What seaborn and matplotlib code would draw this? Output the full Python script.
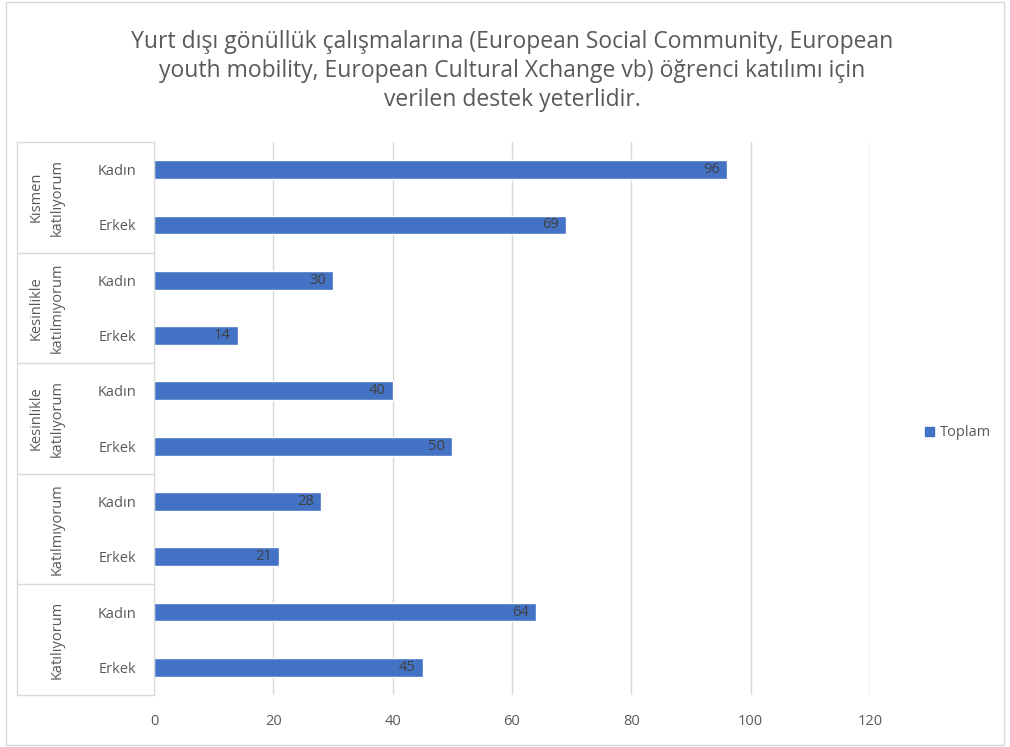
import numpy as np
import pandas as pd
import matplotlib
matplotlib.use("Agg")
import matplotlib.pyplot as plt
import matplotlib.transforms as mtransforms
from matplotlib.patches import Rectangle
from matplotlib.lines import Line2D
import seaborn as sns

# --- data (top to bottom) ---
groups = ["Kısmen\nkatılıyorum", "Kesinlikle\nkatılmıyorum", "Kesinlikle\nkatılıyorum",
          "Katılmıyorum", "Katılıyorum"]
genders = ["Kadın", "Erkek"]
values = [96, 69, 30, 14, 40, 50, 28, 21, 64, 45]
x_ticks = [0, 20, 40, 60, 80, 100, 120]
title = ("Yurt dışı gönüllük çalışmalarına (European Social Community, European\n"
         "youth mobility, European Cultural Xchange vb) öğrenci katılımı için\n"
         "verilen destek yeterlidir.")
series_name = "Toplam"

BAR = "#4472C4"
TXT = "#595959"
GRID = "#D9D9D9"

rows = []
for g in groups:
    for s in genders:
        rows.append({"row": f"{g}|{s}", "group": g, "gender": s})
df = pd.DataFrame(rows)
df["value"] = values

sns.set_style("white")
plt.rcParams["font.family"] = ["Open Sans", "DejaVu Sans"]

fig = plt.figure(figsize=(10.1, 7.47), dpi=100)
W, H = 1010, 747
ax_left, ax_right, ax_top, ax_bot = 154, 870, 142, 695
ax = fig.add_axes([ax_left / W, 1 - ax_bot / H, (ax_right - ax_left) / W, (ax_bot - ax_top) / H])

sns.barplot(data=df, x="value", y="row", orient="h", color=BAR, width=0.34,
            saturation=1, ax=ax)

ax.set_xlim(0, 120)
ax.set_ylim(len(values) - 0.5, -0.5)
ax.set_xticks(x_ticks)
ax.set_xticklabels([str(t) for t in x_ticks], color=TXT, fontsize=10.5)
ax.set_yticks(range(len(values)))
ax.set_yticklabels(df["gender"], color=TXT, fontsize=10.5)
ax.tick_params(axis="both", length=0)
ax.tick_params(axis="y", pad=13)
ax.tick_params(axis="x", pad=14)
ax.set_xlabel("")
ax.set_ylabel("")
ax.xaxis.grid(True, color=GRID, linewidth=1)
ax.set_axisbelow(True)
for side in ["top", "right", "bottom"]:
    ax.spines[side].set_visible(False)
ax.spines["left"].set_color(GRID)
# keep the 120 gridline visible at the right edge
ax.axvline(120, color=GRID, linewidth=1, zorder=0)

# data labels inside end of bars
for i, v in enumerate(values):
    ax.text(v - 1.2, i, str(v), ha="right", va="center", color="#404040", fontsize=10.5)

# multi-level category table on the left
trans = mtransforms.blended_transform_factory(ax.transAxes, ax.transData)
x_tab = (17 - ax_left) / (ax_right - ax_left)
ax.add_line(Line2D([x_tab, x_tab], [-0.5, len(values) - 0.5], transform=trans,
                   color=GRID, linewidth=1, clip_on=False))
for k in range(len(groups) + 1):
    yb = 2 * k - 0.5
    ax.add_line(Line2D([x_tab, 0], [yb, yb], transform=trans,
                       color=GRID, linewidth=1, clip_on=False))
x_grp = (65 - ax_left) / (ax_right - ax_left)
for k, g in enumerate(groups):
    ax.text(x_grp, 2 * k + 0.5, g, transform=trans, rotation=90, ha="right",
            va="center", multialignment="center", color=TXT, fontsize=10.5,
            linespacing=1.6)

# title
fig.text(512 / W, 1 - 71 / H, title, ha="center", va="center", color=TXT,
         fontsize=16.5, linespacing=1.3)

# legend
handles = [Rectangle((0, 0), 1, 1, color=BAR)]
fig.legend(handles, [series_name], loc="center left", bbox_to_anchor=(912 / W, 1 - 433 / H),
           frameon=False, handlelength=0.6, handleheight=0.6, handletextpad=0.4,
           fontsize=10.5, labelcolor=TXT)

# chart border
fig.patches.append(Rectangle((6 / W, 2 / H), 998 / W, 743 / H, transform=fig.transFigure,
                             fill=False, edgecolor=GRID, linewidth=1))

fig.savefig("out.png", dpi=100)
